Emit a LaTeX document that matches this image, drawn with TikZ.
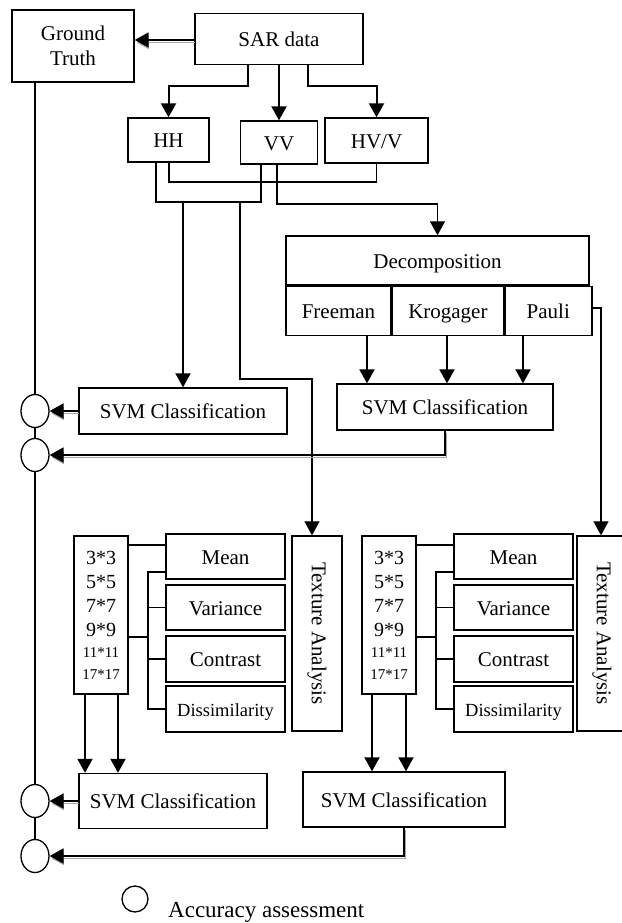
\documentclass[tikz,border=0pt]{standalone}
\usepackage{fontspec}
\setmainfont{Liberation Serif}
\usetikzlibrary{positioning,shapes.geometric,arrows.meta}

\tikzset{
  box/.style={shape=rectangle,draw,line width=1.4pt,inner sep=0pt,align=center},
  onebox/.style={box,text height=16pt,text depth=1pt},
  acc/.style={shape=ellipse,draw,line width=1.3pt,inner sep=0pt,minimum width=28,minimum height=33},
  conn/.style={line width=1.2pt},
  arr/.style={line width=2pt,-{Triangle[length=14pt,width=15pt]}},
  thinarr/.style={line width=1.3pt,-{Triangle[length=14pt,width=15pt]}},
  shadowarr/.style={line width=1.8pt,-{Triangle[length=14pt,width=15pt]},
    preaction={draw=black!35,transform canvas={shift={(0.8pt,-2.6pt)}}}},
}

\begin{document}
\begin{tikzpicture}[x=1pt,y=-1pt,font=\fontsize{21}{25}\selectfont]
\useasboundingbox (0,0) rectangle (621,923);

% inputs
\node (gt) [box,minimum width=122,minimum height=72] at (73,46) {Ground\\Truth};
\node (sar) [onebox,minimum width=168,minimum height=51] at (279,39) {SAR data};
\node (hh) [onebox,minimum width=81,minimum height=44] at (168.5,140) {HH};
\node (vv) [onebox,minimum width=77,minimum height=43] at (279,142.5) {VV};
\node (hvv) [onebox,minimum width=103,minimum height=45] at (376.5,140.5) {HV/V};

% decomposition
\node (dec) [onebox,minimum width=303,minimum height=49] at (437.5,260.5) {Decomposition};
\node (freeman) [onebox,minimum width=105,minimum height=49,anchor=north west] at (dec.south west) {Freeman};
\node (krog) [onebox,minimum width=111,minimum height=49,anchor=west] at (freeman.east) {Krogager};
\node (pauli) [onebox,minimum width=87,minimum height=49,anchor=west] at (krog.east) {Pauli};

% first classifications
\node (svma) [onebox,minimum width=208,minimum height=46] at (183,411) {SVM Classification};
\node (svmb) [onebox,minimum width=216,minimum height=46] at (445,407) {SVM Classification};
\node (acc1) [acc] at (35,411) {};
\node (acc2) [acc] at (35,455) {};

% texture blocks
\foreach \i/\dx in {1/0,2/288}{
  \node (win\i) [box,minimum width=54,minimum height=158,font=\fontsize{20}{24}\selectfont] at (101+\dx,615)
    {3*3\\5*5\\7*7\\9*9\\[-3pt]\fontsize{15}{18}\selectfont 11*11\\[-2pt]\fontsize{15}{18}\selectfont 17*17};
  \node (mean\i) [onebox,minimum width=119,minimum height=45] at (225.5+\dx,556.5) {Mean};
  \node (var\i) [onebox,minimum width=119,minimum height=45] at (225.5+\dx,607.5) {Variance};
  \node (con\i) [onebox,minimum width=119,minimum height=46] at (225.5+\dx,659) {Contrast};
  \node (dis\i) [onebox,minimum width=119,minimum height=46,font=\fontsize{18.5}{22}\selectfont] at (225.5+\dx,709) {Dissimilarity};
  \coordinate (br\i) at (148+\dx,637);
  \draw[conn] (win\i.east |- 0,545) -- (mean\i.west |- 0,545);
  \draw[conn] (win\i.east |- br\i) -- (br\i);
  \draw[conn] (mean\i.west |- 0,572) -| (br\i |- dis\i.west) -- (dis\i.west);
  \draw[conn] (br\i |- var\i.west) -- (var\i.west)
              (br\i |- con\i.west) -- (con\i.west);
}
\node (ta1) [box,minimum width=50,minimum height=195] at (317,633.5) {\rotatebox{-90}{Texture Analysis}};
\node (ta2) [box,minimum width=50,minimum height=195] at (602,633.5) {\rotatebox{-90}{Texture Analysis}};

% second classifications
\node (svmc) [onebox,minimum width=188,minimum height=55] at (173,801) {SVM Classification};
\node (svmd) [onebox,minimum width=202,minimum height=55] at (404,799.5) {SVM Classification};
\node (acc3) [acc] at (35,801) {};
\node (acc4) [acc] at (35,856) {};

% legend
\node (legend) [acc,minimum width=26,minimum height=26] at (135,899) {};
\node (legtext) [anchor=base west,inner sep=0pt,font=\fontsize{23}{27}\selectfont] at (168,917) {Accuracy assessment};

% SAR data to channels
\coordinate (s1) at (248,86);
\coordinate (s3) at (308,86);
\draw[shadowarr] (sar.west |- 0,40) -- (gt.east |- 0,40);
\draw[arr] (sar.south -| s1) -- (s1) -| (hh.north);
\draw[arr] (sar.south) -- (vv.north);
\draw[arr] (sar.south -| s3) -- (s3) -| (hvv.north);

% channel links
\coordinate (h1) at (169,182);
\coordinate (h2) at (156,202);
\coordinate (v2) at (261,202);
\coordinate (v3) at (277,204);
\draw[conn] (hh.south -| h1) -- (h1) -| (hvv.south);
\draw[conn] (hh.south -| h2) -- (h2) -- (v2) -- (vv.south -| v2);
\draw[thinarr] (vv.south -| v3) -- (v3) -| (dec.north);
\draw[arr] (svma.north |- h2) -- (svma.north);
\coordinate (t1) at (240,379);
\coordinate (t2) at (312,379);
\draw[thinarr] (t1 |- h2) -- (t1) -- (t2) -- (t2 |- ta1.north);

% decomposition to classification
\foreach \xx in {367,447,523}
  \draw[arr] (freeman.south -| \xx,0) -- (svmb.north -| \xx,0);
\coordinate (p1) at (601,308);
\draw[thinarr] (pauli.east |- p1) -- (p1) -- (p1 |- ta2.north);

% windows to classification
\foreach \xx in {85,118}
  \draw[arr] (win1.south -| \xx,0) -- (svmc.north -| \xx,0);
\foreach \xx in {372,406}
  \draw[arr] (win2.south -| \xx,0) -- (svmd.north -| \xx,0);

% accuracy assessment
\draw[conn] (gt.south -| acc1) -- (acc1.north)
            (acc1.south) -- (acc2.north)
            (acc2.south) -- (acc3.north)
            (acc3.south) -- (acc4.north);
\draw[shadowarr] (svma.west) -- (acc1.east);
\draw[shadowarr] (svmb.south) |- (acc2.east);
\draw[shadowarr] (svmc.west) -- (acc3.east);
\draw[shadowarr] (svmd.south) |- (acc4.east);
\end{tikzpicture}
\end{document}
